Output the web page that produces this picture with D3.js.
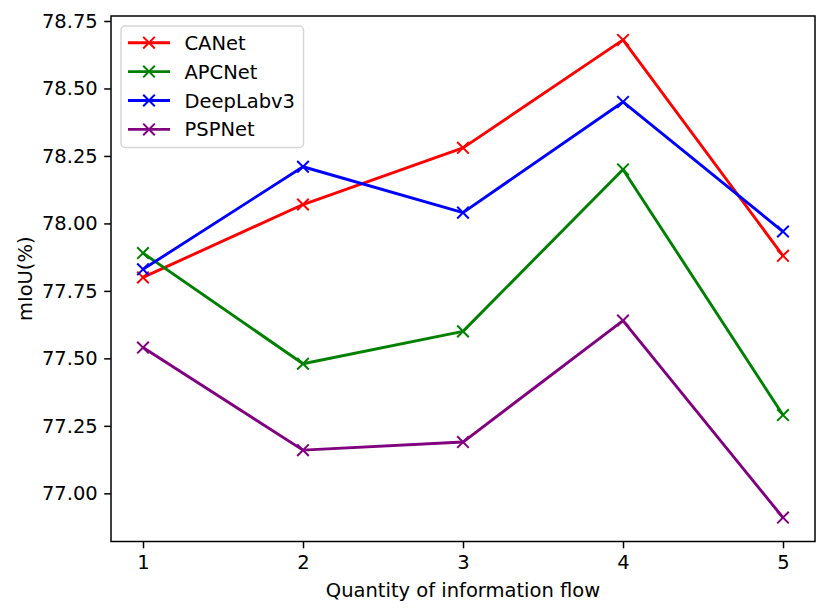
<!DOCTYPE html>
<html>
<head>
<meta charset="utf-8">
<script src="https://cdn.jsdelivr.net/npm/d3@7"></script>
<style>
  body { margin: 0; background: #fff; }
  text { font-family: "DejaVu Sans", sans-serif; fill: #000; }
</style>
</head>
<body>
<svg id="chart" width="830" height="616"></svg>
<script>
// data
var flows = [1, 2, 3, 4, 5];
var canet     = [77.80, 78.07, 78.28, 78.68, 77.88];
var apcnet    = [77.89, 77.48, 77.60, 78.20, 77.29];
var deeplabv3 = [77.83, 78.21, 78.04, 78.45, 77.97];
var pspnet    = [77.54, 77.16, 77.19, 77.64, 76.91];
var yTicks = [77.00, 77.25, 77.50, 77.75, 78.00, 78.25, 78.50, 78.75];

var seriesList = [
  { name: 'CANet', values: canet, color: '#ff0000' },
  { name: 'APCNet', values: apcnet, color: '#008000' },
  { name: 'DeepLabv3', values: deeplabv3, color: '#0000ff' },
  { name: 'PSPNet', values: pspnet, color: '#800080' }
];

// SETUP
var plotLeft = 111, plotRight = 815, plotTop = 16, plotBottom = 541.5;
var fontSize = 19.5;
var svg = d3.select('#chart');

// matplotlib style 5% margins
var allVals = [].concat(canet, apcnet, deeplabv3, pspnet);
var yMin = d3.min(allVals), yMax = d3.max(allVals);
var yPad = (yMax - yMin) * 0.05;
var xPad = (d3.max(flows) - d3.min(flows)) * 0.05;

var x = d3.scaleLinear()
  .domain([d3.min(flows) - xPad, d3.max(flows) + xPad])
  .range([plotLeft, plotRight]);
var y = d3.scaleLinear()
  .domain([yMin - yPad, yMax + yPad])
  .range([plotBottom, plotTop]);

/**
 * Axes
 */
var xAxis = svg.append('g')
  .attr('transform', 'translate(0,' + plotBottom + ')')
  .call(d3.axisBottom(x).tickValues(flows).tickFormat(d3.format('d'))
    .tickSizeInner(6.8).tickSizeOuter(0).tickPadding(6.5));
var yAxis = svg.append('g')
  .attr('transform', 'translate(' + plotLeft + ',0)')
  .call(d3.axisLeft(y).tickValues(yTicks).tickFormat(d3.format('.2f'))
    .tickSizeInner(6.8).tickSizeOuter(0).tickPadding(6.5));

[xAxis, yAxis].forEach(function (ax) {
  ax.select('.domain').remove();
  ax.selectAll('.tick line').attr('stroke', '#000').attr('stroke-width', 1.5);
  ax.selectAll('.tick text')
    .style('font-family', '"DejaVu Sans", sans-serif')
    .style('font-size', fontSize + 'px')
    .attr('fill', '#000');
});

// frame
svg.append('rect')
  .attr('x', plotLeft)
  .attr('y', plotTop)
  .attr('width', plotRight - plotLeft)
  .attr('height', plotBottom - plotTop)
  .attr('fill', 'none')
  .attr('stroke', '#000')
  .attr('stroke-width', 1.5);

// axis labels
svg.append('text')
  .attr('x', (plotLeft + plotRight) / 2)
  .attr('y', 597)
  .attr('text-anchor', 'middle')
  .style('font-size', fontSize + 'px')
  .text('Quantity of information flow');

svg.append('text')
  .attr('transform', 'translate(32,' + ((plotTop + plotBottom) / 2) + ') rotate(-90)')
  .attr('text-anchor', 'middle')
  .style('font-size', fontSize + 'px')
  .text('mIoU(%)');

/**
 * Lines and markers
 */
var line = d3.line()
  .x(function (d, i) { return x(flows[i]); })
  .y(function (d) { return y(d); });

var markerSize = 5.8;
function cross(g, cx, cy, color) {
  g.append('path')
    .attr('d', 'M' + (cx - markerSize) + ',' + (cy - markerSize) + 'L' + (cx + markerSize) + ',' + (cy + markerSize)
      + 'M' + (cx - markerSize) + ',' + (cy + markerSize) + 'L' + (cx + markerSize) + ',' + (cy - markerSize))
    .attr('stroke', color)
    .attr('stroke-width', 2)
    .attr('fill', 'none');
}

var plot = svg.append('g').attr('id', 'series');
seriesList.forEach(function (s) {
  var g = plot.append('g');
  g.append('path')
    .attr('d', line(s.values))
    .attr('fill', 'none')
    .attr('stroke', s.color)
    .attr('stroke-width', 2.9)
    .attr('stroke-linejoin', 'round');
  s.values.forEach(function (v, i) {
    cross(g, x(flows[i]), y(v), s.color);
  });
});

/**
 * Legend
 */
var legend = svg.append('g').attr('id', 'legend');
legend.append('rect')
  .attr('x', 121)
  .attr('y', 26)
  .attr('width', 182.5)
  .attr('height', 121.5)
  .attr('rx', 4)
  .attr('fill', 'rgba(255,255,255,0.8)')
  .attr('stroke', '#d6d6d6')
  .attr('stroke-width', 1.5);

seriesList.forEach(function (s, i) {
  var cy = 42.7 + i * 28.9;
  var g = legend.append('g');
  g.append('line')
    .attr('x1', 128).attr('x2', 170)
    .attr('y1', cy).attr('y2', cy)
    .attr('stroke', s.color)
    .attr('stroke-width', 2.9);
  cross(g, 149, cy, s.color);
  g.append('text')
    .attr('x', 184.5)
    .attr('y', cy)
    .attr('dy', '0.36em')
    .style('font-size', fontSize + 'px')
    .text(s.name);
});
</script>
</body>
</html>
